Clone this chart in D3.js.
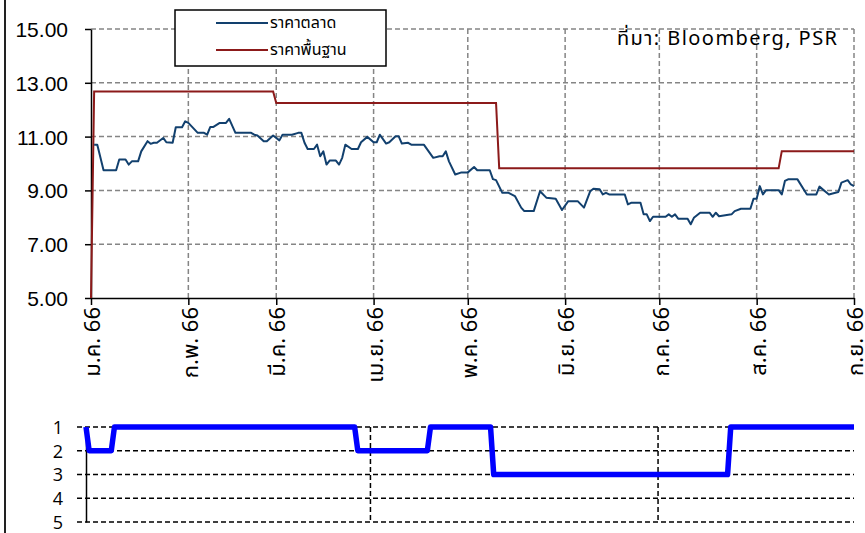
<!DOCTYPE html>
<html>
<head>
<meta charset="utf-8">
<script src="https://cdn.jsdelivr.net/npm/d3@7"></script>
<style>
  body { margin: 0; background: #fff; }
  svg { display: block; font-family: "Liberation Sans", Arial, sans-serif; }
  .grid line { stroke: #858585; stroke-width: 1.5; stroke-dasharray: 5,3; }
  .grid-bottom line { stroke: #000; stroke-width: 1.5; stroke-dasharray: 5,3; }
  .axis path, .axis line { stroke: #000; stroke-width: 1.5; }
  .axis text { fill: #000; }
  .thai { font-family: "Noto Sans Thai", "Noto Sans", "DejaVu Sans", sans-serif; }
</style>
</head>
<body>
<div id="chart"></div>
<script>
// price axis
const priceTicks = [5, 7, 9, 11, 13, 15];
const monthDates = ["2023-01-01", "2023-02-01", "2023-03-01", "2023-04-01", "2023-05-01",
  "2023-06-01", "2023-07-01", "2023-08-01", "2023-09-01"];
const monthLabels = ["ม.ค. 66", "ก.พ. 66", "มี.ค. 66", "เม.ย. 66", "พ.ค. 66",
  "มิ.ย. 66", "ก.ค. 66", "ส.ค. 66", "ก.ย. 66"];

// ราคาตลาด (market price)
const marketDates = [
  "2023-01-02", "2023-01-03", "2023-01-05", "2023-01-09", "2023-01-10", "2023-01-12", "2023-01-13",
  "2023-01-14", "2023-01-16", "2023-01-17", "2023-01-19", "2023-01-20", "2023-01-21", "2023-01-22",
  "2023-01-24", "2023-01-25", "2023-01-27", "2023-01-28", "2023-01-30", "2023-01-31", "2023-02-01",
  "2023-02-04", "2023-02-06", "2023-02-07", "2023-02-08", "2023-02-09", "2023-02-11", "2023-02-13",
  "2023-02-14", "2023-02-16", "2023-02-21", "2023-02-22", "2023-02-23", "2023-02-25", "2023-02-26",
  "2023-02-28", "2023-03-02", "2023-03-03", "2023-03-06", "2023-03-08", "2023-03-09", "2023-03-10",
  "2023-03-11", "2023-03-13", "2023-03-14", "2023-03-15", "2023-03-16", "2023-03-17", "2023-03-18",
  "2023-03-20", "2023-03-21", "2023-03-22", "2023-03-23", "2023-03-25", "2023-03-27", "2023-03-28",
  "2023-03-30", "2023-04-01", "2023-04-02", "2023-04-03", "2023-04-05", "2023-04-06", "2023-04-08",
  "2023-04-09", "2023-04-10", "2023-04-12", "2023-04-13", "2023-04-17", "2023-04-20", "2023-04-22",
  "2023-04-23", "2023-04-24", "2023-04-25", "2023-04-27", "2023-04-29", "2023-05-01", "2023-05-03",
  "2023-05-04", "2023-05-08", "2023-05-09", "2023-05-10", "2023-05-12", "2023-05-14", "2023-05-16",
  "2023-05-18", "2023-05-19", "2023-05-22", "2023-05-24", "2023-05-26", "2023-05-29", "2023-05-31",
  "2023-06-02", "2023-06-05", "2023-06-07", "2023-06-09", "2023-06-10", "2023-06-12", "2023-06-13",
  "2023-06-14", "2023-06-15", "2023-06-20", "2023-06-21", "2023-06-22", "2023-06-25", "2023-06-26",
  "2023-06-27", "2023-06-28", "2023-06-29", "2023-07-03", "2023-07-04", "2023-07-05", "2023-07-06",
  "2023-07-07", "2023-07-10", "2023-07-11", "2023-07-12", "2023-07-14", "2023-07-17", "2023-07-18",
  "2023-07-19", "2023-07-20", "2023-07-24", "2023-07-25", "2023-07-27", "2023-07-30", "2023-07-31",
  "2023-08-01", "2023-08-02", "2023-08-03", "2023-08-04", "2023-08-08", "2023-08-09", "2023-08-10",
  "2023-08-11", "2023-08-14", "2023-08-17", "2023-08-20", "2023-08-21", "2023-08-24", "2023-08-27",
  "2023-08-28", "2023-08-30", "2023-08-31", "2023-09-01"
];
const marketPrices = [
  10.70, 10.70, 9.75, 9.75, 10.15, 10.15, 9.96,
  10.08, 10.08, 10.45, 10.83, 10.73, 10.77, 10.77,
  10.95, 10.79, 10.77, 11.35, 11.35, 11.57, 11.51,
  11.14, 11.14, 11.07, 11.36, 11.36, 11.51, 11.51,
  11.66, 11.14, 11.14, 11.07, 11.04, 10.83, 10.83,
  11.04, 10.86, 11.07, 11.07, 11.14, 11.14, 10.77,
  10.54, 10.54, 10.70, 10.27, 10.45, 9.96, 10.11,
  10.11, 9.96, 10.21, 10.70, 10.54, 10.54, 10.79,
  10.99, 10.79, 10.79, 11.07, 10.74, 10.79, 11.01,
  11.01, 10.74, 10.77, 10.70, 10.70, 10.21, 10.27,
  10.27, 10.45, 10.08, 9.59, 9.67, 9.67, 9.87,
  9.75, 9.75, 9.42, 9.38, 8.91, 8.91, 8.79,
  8.36, 8.23, 8.23, 8.97, 8.73, 8.69, 8.27,
  8.60, 8.60, 8.36, 8.97, 9.06, 9.04, 8.85,
  8.91, 8.85, 8.85, 8.48, 8.54, 8.54, 8.11,
  8.11, 7.86, 8.02, 8.02, 8.11, 8.02, 8.11,
  7.95, 7.95, 7.74, 7.98, 8.17, 8.17, 8.02,
  8.17, 8.04, 8.11, 8.23, 8.32, 8.32, 8.69,
  8.69, 9.16, 8.85, 9.01, 9.01, 8.85, 9.35,
  9.41, 9.41, 8.85, 8.85, 9.14, 8.85, 8.94,
  9.29, 9.38, 9.22, 9.16
];

// ราคาพื้นฐาน (fundamental price)
const floorDates = ["2023-01-01", "2023-01-02", "2023-02-28", "2023-03-01", "2023-05-10",
  "2023-05-11", "2023-08-08", "2023-08-09", "2023-09-01"];
const floorPrices = [5.00, 12.68, 12.68, 12.25, 12.25, 9.82, 9.82, 10.46, 10.46];

// lower panel: rating level 1-5
const rankTicks = [1, 2, 3, 4, 5];
const rankGridDates = ["2023-04-01", "2023-07-01"];
const rankDates = ["2023-01-01", "2023-01-02", "2023-01-09", "2023-01-10", "2023-03-27",
  "2023-03-28", "2023-04-19", "2023-04-20", "2023-05-09", "2023-05-10", "2023-07-23",
  "2023-07-24", "2023-09-01"];
const rankLevels = [1, 2, 2, 1, 1, 2, 2, 1, 1, 3, 3, 1, 1];

class PriceChart {
  constructor(_config) {
    this.config = {
      parentElement: _config.parentElement,
      containerWidth: 865,
      containerHeight: 533,
      top: { left: 91, right: 854, top: 29, bottom: 298 },
      bottom: { left: 86, right: 854, top: 427, bottom: 522 },
    };
    this.initVis();
  }

  initVis() {
    let vis = this;
    const parse = d3.timeParse("%Y-%m-%d");
    vis.parse = parse;

    vis.svg = d3.select(vis.config.parentElement)
      .append("svg")
      .attr("width", vis.config.containerWidth)
      .attr("height", vis.config.containerHeight);

    const t = vis.config.top;
    const b = vis.config.bottom;
    const domain = [parse(monthDates[0]), parse(monthDates[monthDates.length - 1])];

    vis.xTop = d3.scaleTime().domain(domain).range([t.left, t.right]);
    vis.yTop = d3.scaleLinear().domain([5, 15]).range([t.bottom, t.top]);
    vis.xBot = d3.scaleTime().domain(domain).range([b.left, b.right]);
    vis.yBot = d3.scaleLinear().domain([1, 5]).range([b.top, b.bottom]);

    vis.renderVis();
  }

  renderVis() {
    let vis = this;
    const t = vis.config.top;
    const b = vis.config.bottom;
    const parse = vis.parse;

    // outer frame edge on the left
    vis.svg.append("line")
      .attr("x1", 5).attr("x2", 5).attr("y1", 0).attr("y2", 533)
      .attr("stroke", "#222").attr("stroke-width", 2);

    // ---- top panel grid
    const grid = vis.svg.append("g").attr("class", "grid");
    grid.selectAll(".hgrid")
      .data(priceTicks.slice(1))
      .join("line")
      .attr("x1", t.left).attr("x2", t.right)
      .attr("y1", d => vis.yTop(d)).attr("y2", d => vis.yTop(d));
    grid.selectAll(".vgrid")
      .data(monthDates.slice(1))
      .join("line")
      .attr("x1", d => vis.xTop(parse(d))).attr("x2", d => vis.xTop(parse(d)))
      .attr("y1", t.top).attr("y2", t.bottom);

    // axes
    const yAxis = d3.axisLeft(vis.yTop)
      .tickValues(priceTicks)
      .tickSize(6).tickSizeOuter(0).tickPadding(17)
      .tickFormat(d3.format(".2f"));
    const yAxisG = vis.svg.append("g")
      .attr("class", "axis")
      .attr("transform", `translate(${t.left},0)`)
      .call(yAxis);
    yAxisG.selectAll("text")
      .attr("font-size", 21)
      .attr("dy", "0.36em");

    const xAxis = d3.axisBottom(vis.xTop)
      .tickValues(monthDates.map(parse))
      .tickSize(7).tickSizeOuter(0)
      .tickFormat((d, i) => monthLabels[i]);
    const xAxisG = vis.svg.append("g")
      .attr("class", "axis")
      .attr("transform", `translate(0,${t.bottom})`)
      .call(xAxis);
    xAxisG.selectAll("text")
      .attr("class", "thai")
      .attr("font-size", 22)
      .attr("text-anchor", "end")
      .attr("x", 0).attr("y", 0)
      .attr("dy", "0.35em")
      .attr("transform", "translate(1,9) rotate(-90)");

    // lines
    const line = d3.line()
      .x(d => vis.xTop(parse(d[0])))
      .y(d => vis.yTop(d[1]));

    vis.svg.append("path")
      .datum(d3.zip(floorDates, floorPrices))
      .attr("fill", "none")
      .attr("stroke", "#8c1a1a")
      .attr("stroke-width", 2)
      .attr("d", line);

    vis.svg.append("path")
      .datum(d3.zip(marketDates, marketPrices))
      .attr("fill", "none")
      .attr("stroke", "#12406e")
      .attr("stroke-width", 2)
      .attr("stroke-linejoin", "round")
      .attr("d", line);

    // legend
    const legend = vis.svg.append("g");
    legend.append("rect")
      .attr("x", 175).attr("y", 10).attr("width", 211).attr("height", 56)
      .attr("fill", "#fff").attr("stroke", "#000").attr("stroke-width", 1.5);
    const legendItems = [
      { label: "ราคาตลาด", color: "#12406e", y: 23 },
      { label: "ราคาพื้นฐาน", color: "#8c1a1a", y: 50 },
    ];
    legendItems.forEach(d => {
      legend.append("line")
        .attr("x1", 216).attr("x2", 268).attr("y1", d.y).attr("y2", d.y)
        .attr("stroke", d.color).attr("stroke-width", 2);
      legend.append("text")
        .attr("class", "thai")
        .attr("x", 270).attr("y", d.y + 5)
        .attr("font-size", 16)
        .text(d.label);
    });

    // source note
    vis.svg.append("text")
      .attr("class", "thai")
      .attr("x", 617).attr("y", 45)
      .attr("font-size", 20)
      .attr("textLength", 220)
      .attr("lengthAdjust", "spacing")
      .text("ที่มา:  Bloomberg, PSR");

    // ---- bottom panel
    const gridB = vis.svg.append("g").attr("class", "grid-bottom");
    gridB.selectAll(".hgrid")
      .data(rankTicks)
      .join("line")
      .attr("x1", 77).attr("x2", b.right)
      .attr("y1", d => vis.yBot(d)).attr("y2", d => vis.yBot(d));
    gridB.selectAll(".vgrid")
      .data(rankGridDates)
      .join("line")
      .attr("x1", d => vis.xBot(parse(d))).attr("x2", d => vis.xBot(parse(d)))
      .attr("y1", b.top).attr("y2", b.bottom);

    const rankAxis = d3.axisLeft(vis.yBot)
      .tickValues(rankTicks)
      .tickSize(0).tickSizeOuter(0).tickPadding(23)
      .tickFormat(d3.format("d"));
    const rankAxisG = vis.svg.append("g")
      .attr("class", "axis")
      .attr("transform", `translate(${b.left},0)`)
      .call(rankAxis);
    rankAxisG.selectAll("text")
      .attr("font-family", "'Open Sans', sans-serif")
      .attr("font-size", 18)
      .attr("dy", "0.36em");

    const rankLine = d3.line()
      .x(d => vis.xBot(parse(d[0])))
      .y(d => vis.yBot(d[1]));
    vis.svg.append("path")
      .datum(d3.zip(rankDates, rankLevels))
      .attr("fill", "none")
      .attr("stroke", "#0000ff")
      .attr("stroke-width", 5.5)
      .attr("stroke-linejoin", "round")
      .attr("d", rankLine);
  }
}

new PriceChart({ parentElement: "#chart" });
</script>
</body>
</html>
